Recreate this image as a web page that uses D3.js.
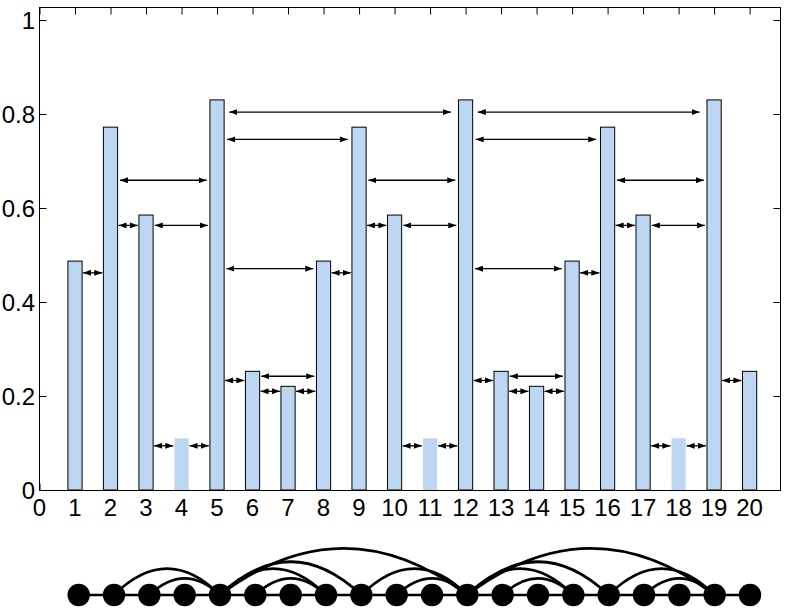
<!DOCTYPE html>
<html>
<head>
<meta charset="utf-8">
<script src="https://cdn.jsdelivr.net/npm/d3@7"></script>
<style>
  html, body { margin: 0; padding: 0; background: #fff; }
  svg { display: block; }
  text { font-family: "Liberation Sans", Arial, sans-serif; }
</style>
</head>
<body>
<svg id="chart" width="786" height="612"></svg>
<script>
// ---- data ----
const categories = d3.range(1, 21);
const values = [0.487, 0.772, 0.585, 0.110, 0.830, 0.2525, 0.2206,
                0.487, 0.772, 0.585, 0.110, 0.830, 0.2525, 0.2206,
                0.487, 0.772, 0.585, 0.110, 0.830, 0.2525];
const unboxedBars = [4, 11, 18];
const xTicks = d3.range(0, 21);
const xTickLabels = xTicks.map(String);
const yTicks = [0, 0.2, 0.4, 0.6, 0.8, 1];
const yTickLabels = ["0", "0.2", "0.4", "0.6", "0.8", "1"];
// edges between categories (also drawn as arrows in the chart)
const edgeFrom  = [1, 2, 3, 4, 5, 6, 7, 8, 9, 10, 11, 12, 13, 14, 15, 16, 17, 18, 19,
                   2, 3, 5, 5, 5, 6, 9, 10, 12, 12, 12, 13, 16, 17];
const edgeTo    = [2, 3, 4, 5, 6, 7, 8, 9, 10, 11, 12, 13, 14, 15, 16, 17, 18, 19, 20,
                   5, 5, 8, 9, 12, 8, 12, 12, 15, 16, 19, 15, 19, 19];
const arrowLevel = [0.462, 0.563, 0.094, 0.094, 0.233, 0.210, 0.210, 0.462, 0.563, 0.094,
                    0.094, 0.233, 0.210, 0.210, 0.462, 0.563, 0.094, 0.094, 0.233,
                    0.659, 0.563, 0.471, 0.746, 0.804, 0.242, 0.659, 0.563, 0.471,
                    0.746, 0.804, 0.242, 0.659, 0.563];

// ---- layout ----
const svg = d3.select("#chart");
const pLeft = 39.5, pRight = 780.5, pTop = 7.5, pBottom = 490.5;
const x = d3.scaleLinear().domain([0, 20.87]).range([pLeft, pRight]);
const y = d3.scaleLinear().domain([0, 1]).range([490, 20]);
const barW = x(0.4) - x(0);
const tickLen = 7;

const axisG = svg.append("g");
axisG.append("g").attr("transform", `translate(0,${pBottom})`)
  .call(d3.axisTop(x).tickValues(xTicks).tickSize(tickLen).tickFormat(""))
  .call(g => g.select(".domain").remove());
axisG.append("g").attr("transform", `translate(0,${pTop})`)
  .call(d3.axisBottom(x).tickValues(xTicks).tickSize(tickLen).tickFormat(""))
  .call(g => g.select(".domain").remove());
axisG.append("g").attr("transform", `translate(${pLeft},0)`)
  .call(d3.axisRight(y).tickValues(yTicks).tickSize(tickLen).tickFormat(""))
  .call(g => g.select(".domain").remove());
axisG.append("g").attr("transform", `translate(${pRight},0)`)
  .call(d3.axisLeft(y).tickValues(yTicks).tickSize(tickLen).tickFormat(""))
  .call(g => g.select(".domain").remove());
axisG.selectAll("line").attr("stroke", "#000").attr("stroke-width", 1);

// bars
svg.append("g").selectAll("rect").data(categories).join("rect")
  .attr("x", d => x(d) - barW / 2)
  .attr("y", (d, i) => y(values[i]))
  .attr("width", barW)
  .attr("height", (d, i) => y(0) - y(values[i]))
  .attr("fill", "#bdd6f2")
  .attr("stroke", d => unboxedBars.includes(d) ? "none" : "#000")
  .attr("stroke-width", 1);

// frame
svg.append("rect").attr("x", pLeft).attr("y", pTop)
  .attr("width", pRight - pLeft).attr("height", pBottom - pTop)
  .attr("fill", "none").attr("stroke", "#000").attr("stroke-width", 1);

// tick labels
svg.append("g").selectAll("text").data(yTicks).join("text")
  .attr("x", 35).attr("y", d => y(d))
  .attr("dy", "0.36em")
  .attr("text-anchor", "end")
  .attr("font-size", 24)
  .text((d, i) => yTickLabels[i]);
svg.append("g").selectAll("text").data(xTicks).join("text")
  .attr("x", d => x(d)).attr("y", 515.5)
  .attr("text-anchor", "middle")
  .attr("font-size", 24)
  .text((d, i) => xTickLabels[i]);

// arrowheads
const defs = svg.append("defs");
defs.append("marker").attr("id", "ah").attr("viewBox", "0 0 8 6")
  .attr("refX", 8).attr("refY", 3).attr("markerWidth", 8).attr("markerHeight", 6)
  .attr("markerUnits", "userSpaceOnUse").attr("orient", "auto-start-reverse")
  .append("path").attr("d", "M0,0 L8,3 L0,6 Z").attr("fill", "#000");

// double arrows
svg.append("g").selectAll("line").data(edgeFrom).join("line")
  .each(function (a, i) {
    const b = edgeTo[i];
    const x1 = x(a + 0.2) + 0.5, x2 = x(b - 0.2) - 0.5;
    const len = x2 - x1;
    const s1 = Math.min(5, 0.02 * len), s2 = Math.min(8, 0.03 * len);
    d3.select(this)
      .attr("x1", x1 + s1).attr("x2", x2 - s2)
      .attr("y1", y(arrowLevel[i])).attr("y2", y(arrowLevel[i]));
  })
  .attr("stroke", "#000").attr("stroke-width", 1.3)
  .attr("marker-start", "url(#ah)").attr("marker-end", "url(#ah)");

// ---- bottom graph ----
const nx = d3.scaleLinear().domain([1, 20]).range([78.7, 750]);
const ny = 595;
const g2 = svg.append("g");
edgeFrom.forEach((a, i) => {
  const b = edgeTo[i];
  const span = b - a;
  const x1 = nx(a), x2 = nx(b);
  let d;
  if (span === 1) {
    d = `M${x1},${ny} L${x2},${ny}`;
  } else {
    const h = 24 * Math.log(span);
    d = `M${x1},${ny} Q${(x1 + x2) / 2},${ny - 2 * h} ${x2},${ny}`;
  }
  g2.append("path").attr("d", d).attr("fill", "none")
    .attr("stroke", "#000").attr("stroke-width", 2.7);
});
g2.selectAll("circle").data(categories).join("circle")
  .attr("cx", d => nx(d)).attr("cy", ny).attr("r", 11.2).attr("fill", "#000");
</script>
</body>
</html>
